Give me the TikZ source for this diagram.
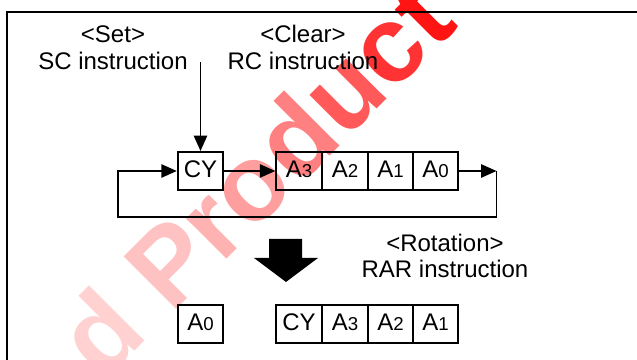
\documentclass[tikz,border=0pt]{standalone}
\usepackage{fontspec}
\setmainfont{Liberation Sans}
\usetikzlibrary{arrows.meta}
\newcommand\regdig[1]{{\fontsize{14}{14}\selectfont #1}}
\begin{document}
\begin{tikzpicture}[x=0.75pt,y=-0.75pt,
  lbl/.style={font=\fontsize{18}{20}\selectfont, inner sep=0, anchor=base},
  cell/.style={draw, line width=1.5pt, minimum width=34.1pt, minimum height=28.5pt,
    inner sep=0, text height=13pt, text depth=3pt, font=\fontsize{18}{20}\selectfont},
  conn/.style={line width=1.1pt},
  arr/.style={conn, -{Triangle[length=11.5pt,width=10pt]}},
  frame/.style={line width=1.6pt},
  wmark/.style={rotate=45, anchor=base west, inner sep=0,
    font=\fontsize{81}{81}\selectfont\bfseries}]
\useasboundingbox (0,0) rectangle (637,360);
% watermark
\begin{scope}
\clip (0,0) rectangle (637,360);
\node[wmark] (wm) at (103,383) {\color{red!18}d \color{red!24}P\color{red!30}r\color{red!38}o\color{red!50}d\color{red!65}u\color{red!80}c\color{red!92}t};
\end{scope}
% frame
\coordinate (fbl) at (7,362);
\coordinate (ftl) at (7,12);
\coordinate (ftr) at (640,12);
\draw[frame] (fbl) -- (ftl) -- (ftr);
% labels
\node[lbl] (set1) at (113,43) {<Set>};
\node[lbl] (set2) at (113,70) {SC instruction};
\node[lbl] (clr1) at (303,43) {<Clear>};
\node[lbl] (clr2) at (303,70) {RC instruction};
\node[lbl] (rot1) at (445,252) {<Rotation>};
\node[lbl] (rot2) at (445,278) {RAR instruction};
% top row
\node[cell] (cy) at (200.5,171) {CY};
\node[cell] (a3) at (299,171) {A\regdig{3}};
\node[cell] (a2) at (345,171) {A\regdig{2}};
\node[cell] (a1) at (390.5,171) {A\regdig{1}};
\node[cell] (a0) at (435.5,171) {A\regdig{0}};
% connectors
\coordinate (sctop) at (200.5,62);
\draw[arr] (sctop) -- (cy.north);
\draw[arr] (cy.east) -- (a3.west);
\coordinate (r1) at (496.5,171);
\coordinate (r2) at (496.5,217);
\coordinate (l2) at (118,217);
\coordinate (l1) at (118,171);
\draw[arr] (a0.east) -- (r1);
\draw[arr] (r1) -- (r2) -- (l2) -- (l1) -- (cy.west);
% big arrow
\fill (269,239) -- (302,239) -- (302,258) -- (318,258) -- (286,282) -- (254,258) -- (269,258) -- cycle;
% bottom row
\node[cell] (ba0) at (200.5,324) {A\regdig{0}};
\node[cell] (bcy) at (299,324) {CY};
\node[cell] (ba3) at (345,324) {A\regdig{3}};
\node[cell] (ba2) at (390.5,324) {A\regdig{2}};
\node[cell] (ba1) at (435.5,324) {A\regdig{1}};
\end{tikzpicture}
\end{document}
